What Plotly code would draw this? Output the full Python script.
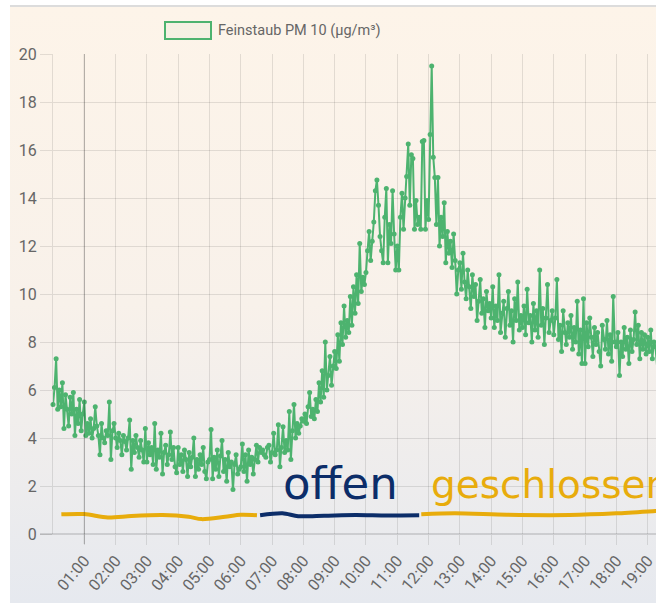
import base64
import pandas as pd
import plotly.graph_objects as go

# ---------------- data ----------------
day = "2021-03-01"
step = "3min"

pm10_00 = [5.4, 6.1, 7.3, 5.2, 6.0, 5.3, 6.3, 4.4, 5.8, 5.2, 4.5, 5.7, 5.0, 5.9, 4.1, 5.2, 4.6, 5.6, 4.3, 5.0]
pm10_01 = [5.5, 4.1, 4.6, 4.2, 4.8, 4.0, 4.4, 5.3, 4.5, 4.1, 3.3, 4.6, 4.0, 3.8, 4.3, 4.1, 5.5, 3.1, 4.3, 4.6]
pm10_02 = [4.0, 3.6, 4.2, 3.9, 3.3, 4.1, 3.85, 3.5, 4.0, 4.75, 2.7, 3.9, 3.4, 4.1, 3.6, 3.2, 3.9, 3.5, 3.0, 4.4]
pm10_03 = [3.0, 3.8, 3.3, 3.6, 2.9, 4.6, 2.7, 3.5, 3.2, 4.2, 2.5, 3.4, 3.7, 2.9, 3.3, 4.25, 3.1, 3.6, 2.8, 2.55]
pm10_04 = [3.6, 2.9, 3.3, 2.6, 3.5, 3.1, 2.4, 3.4, 2.8, 3.2, 4.0, 2.4, 3.1, 2.7, 3.3, 2.9, 3.6, 2.6, 2.3, 3.0]
pm10_05 = [3.1, 4.35, 2.3, 3.2, 2.7, 3.5, 2.4, 3.25, 3.9, 2.6, 3.1, 2.2, 3.4, 2.8, 3.0, 1.85, 2.9, 3.3, 2.5, 2.7]
pm10_06 = [2.8, 3.75, 2.6, 3.3, 2.2, 3.5, 2.9, 3.2, 2.5, 3.1, 3.7, 3.0, 3.6, 3.4, 3.5, 3.3, 3.2, 3.6, 3.7, 3.0]
pm10_07 = [3.4, 4.2, 3.3, 3.5, 4.55, 2.8, 3.6, 4.47, 3.4, 3.9, 3.5, 5.1, 3.1, 4.3, 5.4, 4.0, 4.6, 4.2, 4.5, 4.8]
pm10_08 = [4.7, 5.0, 4.6, 5.3, 5.9, 4.9, 5.2, 4.8, 5.6, 5.1, 6.3, 5.5, 6.8, 5.7, 8.0, 6.0, 6.6, 7.4, 6.2, 7.0]
pm10_09 = [7.6, 6.9, 8.3, 7.2, 8.8, 7.9, 9.5, 8.2, 8.9, 8.4, 9.9, 8.7, 10.3, 9.2, 10.8, 9.6, 12.1, 10.1, 10.7, 10.4]
pm10_10 = [10.9, 11.8, 12.6, 11.4, 12.2, 13.0, 14.3, 14.75, 13.7, 12.4, 11.8, 11.3, 13.2, 14.4, 11.3, 12.9, 12.1, 14.3, 12.5, 11.0]
pm10_11 = [12.0, 11.0, 13.2, 14.2, 12.7, 14.0, 14.9, 16.25, 13.7, 15.8, 15.65, 12.7, 13.9, 12.9, 13.2, 12.7, 16.35, 16.4, 12.7, 13.9]
pm10_12 = [13.1, 16.65, 19.5, 15.7, 14.85, 12.9, 14.85, 12.0, 13.2, 12.4, 13.8, 11.3, 12.6, 11.7, 12.2, 11.1, 12.5, 11.4, 10.0, 11.0]
pm10_13 = [11.3, 10.2, 11.7, 10.5, 9.8, 11.0, 10.3, 9.4, 10.8, 9.9, 10.4, 8.9, 9.7, 10.6, 9.2, 9.8, 8.6, 10.1, 9.3, 9.6]
pm10_14 = [9.0, 10.3, 8.6, 9.5, 8.9, 10.8, 8.4, 9.2, 9.7, 8.2, 9.4, 10.1, 8.7, 9.3, 8.0, 9.8, 8.9, 10.5, 8.5, 9.1]
pm10_15 = [8.6, 9.5, 8.3, 10.2, 8.8, 9.1, 8.0, 9.6, 8.5, 9.3, 8.2, 11.0, 8.7, 9.4, 7.9, 9.0, 10.4, 8.4, 8.9, 9.3]
pm10_16 = [8.3, 9.0, 10.6, 8.1, 8.7, 7.6, 9.3, 8.4, 7.9, 8.8, 8.2, 9.1, 7.7, 8.6, 8.0, 9.7, 7.5, 8.5, 7.1, 9.8]
pm10_17 = [7.1, 8.8, 7.8, 9.0, 8.2, 7.4, 8.6, 7.9, 8.4, 7.6, 7.0, 8.7, 8.1, 7.7, 8.9, 7.5, 8.3, 7.2, 9.9, 8.0]
pm10_18 = [7.8, 8.4, 6.6, 8.0, 7.4, 8.6, 7.7, 8.2, 7.1, 8.5, 7.6, 8.1, 9.25, 7.9, 8.7, 7.3, 8.4, 7.7, 8.3, 7.5]
pm10_19 = [8.2, 7.6, 8.5, 7.3, 8.0, 7.8, 7.0]

# hand-drawn window status strokes (time, level)
closed1_t = ["00:16", "01:00", "01:45", "02:30", "03:30", "04:20", "04:45", "05:30", "06:00", "06:31"]
closed1_v = [0.82, 0.83, 0.69, 0.75, 0.79, 0.72, 0.62, 0.72, 0.80, 0.78]
open_t = ["06:37", "07:20", "07:50", "08:40", "09:40", "10:40", "11:42"]
open_v = [0.78, 0.86, 0.74, 0.76, 0.79, 0.77, 0.78]
closed2_t = ["11:46", "12:50", "14:30", "16:30", "18:00", "19:15", "19:30"]
closed2_v = [0.82, 0.86, 0.80, 0.79, 0.86, 0.96, 0.98]

tick_labels = ["01:00", "02:00", "03:00", "04:00", "05:00", "06:00", "07:00", "08:00", "09:00",
               "10:00", "11:00", "12:00", "13:00", "14:00", "15:00", "16:00", "17:00", "18:00", "19:00"]

series_name = "Feinstaub PM 10 (µg/m³)"
label_open = "offen"
label_closed = "geschlossen"
x_start, x_end = "00:00", "19:16"

# ---------------- build ----------------
pm10 = (pm10_00 + pm10_01 + pm10_02 + pm10_03 + pm10_04 + pm10_05 + pm10_06 + pm10_07 + pm10_08 + pm10_09
        + pm10_10 + pm10_11 + pm10_12 + pm10_13 + pm10_14 + pm10_15 + pm10_16 + pm10_17 + pm10_18 + pm10_19)
times = pd.date_range(f"{day} 00:00", periods=len(pm10), freq=step)

def ts(hm):
    return f"{day} {hm}"

GREEN = "#4db36f"
YELLOW = "#e8ac0c"
NAVY = "#0c2d69"
GRID = "rgba(0,0,0,0.1)"
TICKFONT = dict(family="Roboto", size=16, color="#666666")

fig = go.Figure()
fig.add_trace(go.Scatter(
    x=times, y=pm10, mode="lines+markers", name=series_name,
    line=dict(color=GREEN, width=2),
    marker=dict(color=GREEN, size=5),
    cliponaxis=False, showlegend=False,
))
for tt, vv, col in [(closed1_t, closed1_v, YELLOW), (open_t, open_v, NAVY), (closed2_t, closed2_v, YELLOW)]:
    fig.add_trace(go.Scatter(
        x=[ts(t) for t in tt], y=vv, mode="lines",
        line=dict(color=col, width=4, shape="spline", smoothing=0.8),
        showlegend=False, hoverinfo="skip",
    ))

# gradient background as an SVG image
svg = ('<svg xmlns="http://www.w3.org/2000/svg" width="100" height="100" preserveAspectRatio="none">'
       '<defs><linearGradient id="g" x1="0" y1="0" x2="0" y2="1">'
       '<stop offset="0" stop-color="#fdf4e9"/><stop offset="0.5" stop-color="#f8f1ea"/>'
       '<stop offset="1" stop-color="#e6e9ef"/></linearGradient></defs>'
       '<rect width="100" height="100" fill="url(#g)"/></svg>')
bg_src = "data:image/svg+xml;base64," + base64.b64encode(svg.encode()).decode()

W, H = 656, 603
L, R, T, B = 53, 0, 54, 69
pw, ph = W - L - R, H - T - B

def px_x(p):
    return (p - L) / pw

def px_y(p):
    return (H - B - p) / ph

fig.update_layout(
    width=W, height=H,
    margin=dict(l=L, r=R, t=T, b=B, pad=0),
    paper_bgcolor="white",
    plot_bgcolor="rgba(0,0,0,0)",
    images=[dict(source=bg_src, xref="paper", yref="paper",
                 x=px_x(10), y=px_y(7), sizex=px_x(W) - px_x(10), sizey=px_y(7) - px_y(H),
                 xanchor="left", yanchor="top", sizing="stretch", layer="below")],
    xaxis=dict(
        type="date", range=[ts(x_start), ts(x_end)],
        tickvals=[ts(t) for t in tick_labels], ticktext=tick_labels,
        tickangle=-50, tickfont=TICKFONT, ticklabeloverflow="allow",
        showgrid=True, gridcolor=GRID, gridwidth=1,
        ticks="outside", ticklen=10, tickcolor=GRID, tickwidth=1,
        showline=False, zeroline=False,
    ),
    yaxis=dict(
        range=[0, 20], dtick=2, tickfont=TICKFONT,
        showgrid=True, gridcolor=GRID, gridwidth=1,
        ticks="outside", ticklen=12, tickcolor=GRID, tickwidth=1,
        showline=True, linecolor=GRID, linewidth=1, zeroline=False,
    ),
    shapes=[
        dict(type="line", xref="paper", yref="paper", x0=px_x(10), x1=1, y0=px_y(6), y1=px_y(6),
             line=dict(color="#dcdcdc", width=2)),
        dict(type="line", xref="paper", yref="paper", x0=px_x(40), x1=1, y0=0, y1=0,
             line=dict(color="rgba(0,0,0,0.25)", width=1)),
        dict(type="line", xref="x", yref="paper", x0=ts(tick_labels[0]), x1=ts(tick_labels[0]),
             y0=px_y(H - B + 10), y1=1, line=dict(color="rgba(0,0,0,0.25)", width=1)),
        dict(type="rect", xref="paper", yref="paper", x0=px_x(165), x1=px_x(211), y0=px_y(39), y1=px_y(22),
             line=dict(color=GREEN, width=2), fillcolor="rgba(77,179,111,0.04)"),
    ],
    annotations=[
        dict(text=series_name, xref="paper", yref="paper", x=px_x(216), y=px_y(30.5),
             xanchor="left", yanchor="middle", showarrow=False,
             font=dict(family="Roboto", size=14.5, color="#666666")),
        dict(text=label_open, xref="x", yref="y", x=ts("07:18"), y=2.1,
             xanchor="left", yanchor="middle", showarrow=False,
             font=dict(family="DejaVu Sans", size=45, color=NAVY)),
        dict(text=label_closed, xref="x", yref="y", x=ts("12:00"), y=2.06,
             xanchor="left", yanchor="middle", showarrow=False,
             font=dict(family="DejaVu Sans", size=39, color=YELLOW)),
    ],
)

fig.write_html("out.html", config={"displayModeBar": False},
               post_script="document.body.style.margin='0';document.body.style.overflow='hidden';")
